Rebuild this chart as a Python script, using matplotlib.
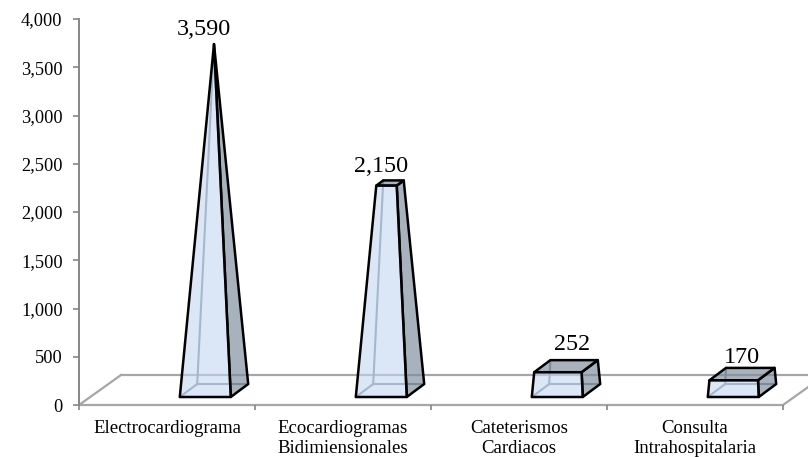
import matplotlib
matplotlib.use("Agg")
import matplotlib.pyplot as plt
from matplotlib.colors import to_rgb
from matplotlib.patches import Polygon

categories = ["Electrocardiograma", "Ecocardiogramas\nBidimiensionales",
              "Cateterismos\nCardiacos", "Consulta\nIntrahospitalaria"]
values = [3590, 2150, 252, 170]
value_labels = ["3,590", "2,150", "252", "170"]
y_ticks = [0, 500, 1000, 1500, 2000, 2500, 3000, 3500, 4000]

W, H = 808, 457
AX_L, AX_R, AX_T, AX_B = 79, 783, 19, 405
plt.rcParams["font.family"] = ["Liberation Serif", "DejaVu Serif"]

fig = plt.figure(figsize=(W / 100, H / 100), dpi=100, facecolor="white")
ax = fig.add_axes([AX_L / W, 1 - AX_B / H, (AX_R - AX_L) / W, (AX_B - AX_T) / H])
ax.set_xlim(-0.5, len(categories) - 0.5)
ax.set_ylim(0, y_ticks[-1])
PX_X = (len(categories)) / (AX_R - AX_L)      # data units per pixel, x
PX_Y = y_ticks[-1] / (AX_B - AX_T)            # data units per pixel, y

GRAY = "#A6A6A6"
AXC = "#868686"
BACK = "#7A8796"
FRONT = "#C3D8F3"
DARK = "#7E8E9E"

# projection constants (pixels)
CENTER_DX, BASE_LIFT = 47, 14.5
HALF_W, DEPTH_X, DEPTH_Y = 25.5, 8.7, 6.5
FLOOR_X, FLOOR_Y = 42, 30


def pt(cat, value, sx, sd, frac):
    """Project a corner: sx = -1/+1 (left/right), sd = -1/+1 (front/back)."""
    x = cat + PX_X * (CENTER_DX + frac * (sx * HALF_W + sd * DEPTH_X))
    y = value + PX_Y * (BASE_LIFT + frac * sd * DEPTH_Y)
    return (x, y)


# floor
x0, x1 = ax.get_xlim()
ax.plot([x0 + PX_X * FLOOR_X, x0, x1, x1 + PX_X * FLOOR_X], [PX_Y * FLOOR_Y, 0, 0, PX_Y * FLOOR_Y],
        color=GRAY, lw=1.6, clip_on=False, zorder=1, solid_joinstyle="miter")
ax.plot([x0 + PX_X * FLOOR_X, x1 + PX_X * FLOOR_X], [PX_Y * FLOOR_Y] * 2,
        color=GRAY, lw=1.6, clip_on=False, zorder=1)

top_value = max(values)
dark_rgba = (*to_rgb(DARK), 0.68)
front_rgba = (*to_rgb(FRONT), 0.6)
for i, v in enumerate(values):
    f = 1 - v / top_value
    bfl, bfr, bbl, bbr = (pt(i, 0, -1, -1, 1), pt(i, 0, 1, -1, 1), pt(i, 0, -1, 1, 1), pt(i, 0, 1, 1, 1))
    tfl, tfr, tbl, tbr = (pt(i, v, -1, -1, f), pt(i, v, 1, -1, f), pt(i, v, -1, 1, f), pt(i, v, 1, 1, f))
    # hidden edges seen through the translucent faces
    for a, b in ((bfl, bbl), (bbl, bbr), (bbl, tbl)):
        ax.plot([a[0], b[0]], [a[1], b[1]], color=BACK, lw=1.5, zorder=2, clip_on=False)
    face = dict(closed=True, linewidth=1.8, edgecolor="black", joinstyle="round", clip_on=False, zorder=3)
    ax.add_patch(Polygon([bfr, bbr, tbr, tfr], facecolor=dark_rgba, **face))
    ax.add_patch(Polygon([tfl, tfr, tbr, tbl], facecolor=dark_rgba, **face))
    ax.add_patch(Polygon([bfl, bfr, tfr, tfl], facecolor=front_rgba, **face))

# data labels
LABEL_DX = [37, 38, 53, 47]
LABEL_DY = [15, 14, 16, 10]
for i, (v, t) in enumerate(zip(values, value_labels)):
    tip = pt(i, v, 0, 1, 1 - v / top_value)
    ax.annotate(t, xy=(i, tip[1]), xytext=(LABEL_DX[i] * 0.72, LABEL_DY[i] * 0.72),
                textcoords="offset points", ha="center", va="center",
                fontsize=17.4, color="black", annotation_clip=False, zorder=5)

# axes
for s in ("top", "right", "bottom"):
    ax.spines[s].set_visible(False)
ax.spines["left"].set_color(AXC)
ax.spines["left"].set_linewidth(1.4)
ax.set_yticks(y_ticks)
ax.set_yticklabels([f"{t:,}" for t in y_ticks], fontsize=13.2, color="black")
ax.tick_params(axis="y", length=4.3, width=1.2, color=AXC, pad=7.5)
ax.set_xticks([i - 0.5 for i in range(len(categories) + 1)])
ax.set_xticklabels([])
ax.tick_params(axis="x", which="major", length=3.6, width=1.2, color=AXC)
ax.set_xticks(range(len(categories)), minor=True)
ax.set_xticklabels(categories, minor=True, fontsize=13.5, color="black", linespacing=1.22)
ax.tick_params(axis="x", which="minor", length=0, pad=11)
ax.patch.set_alpha(0)

fig.savefig("out.png", dpi=100)
